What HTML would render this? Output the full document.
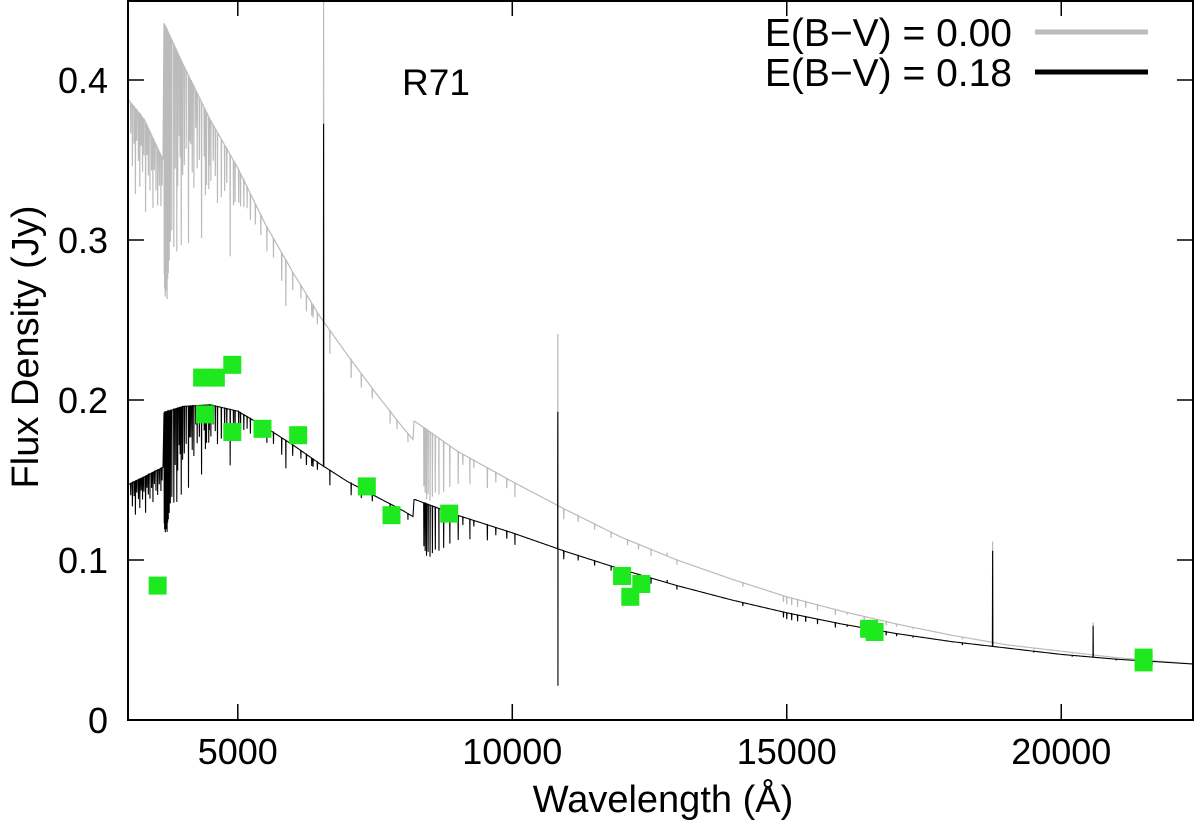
<!DOCTYPE html>
<html><head><meta charset="utf-8"><style>
html,body{margin:0;padding:0;background:#fff;}
svg{display:block;font-family:"Liberation Sans",sans-serif;}
</style></head><body>
<svg id="chart" width="1200" height="824" viewBox="0 0 1200 824">
<g id="plot"></g>
<g id="axes"></g>
<text x="436" y="95" font-size="37" text-anchor="middle">R71</text>
<g>
 <text x="1012" y="46" font-size="39" text-anchor="end">E(B−V) = 0.00</text>
 <line x1="1035" y1="32" x2="1148" y2="32" stroke="#bbb" stroke-width="5"/>
 <text x="1012" y="86" font-size="39" text-anchor="end">E(B−V) = 0.18</text>
 <line x1="1035" y1="72" x2="1148" y2="72" stroke="#000" stroke-width="5"/>
</g>
<text x="663" y="812" font-size="38" text-anchor="middle">Wavelength (Å)</text>
<text x="0" y="0" font-size="38" text-anchor="middle" transform="translate(38,347) rotate(-90)">Flux Density (Jy)</text>
</svg>
<script>
const grayWave=[3000,3300,3640,3650,4000,4500,5000,5500,6000,6500,7000,7500,8000,8200,8210,9000,10000,11000,12000,13000,14000,15000,16000,17000,18000,19000,20000,21000,22400];
const grayFlux=[0.388,0.375,0.35,0.436,0.41,0.375,0.345,0.31,0.28,0.252,0.228,0.205,0.183,0.175,0.187,0.168,0.149,0.131,0.114,0.1,0.088,0.077,0.068,0.06,0.053,0.047,0.043,0.039,0.035];
const blackWave=grayWave;
const blackFlux=[0.147,0.152,0.158,0.192,0.196,0.197,0.193,0.183,0.172,0.16,0.149,0.14,0.131,0.127,0.138,0.128,0.117,0.105,0.094,0.084,0.075,0.067,0.06,0.054,0.049,0.045,0.041,0.038,0.035];
// spectral lines: wavelength, fractional depth (negative = emission)
const lineWave=[3660,3667,3673,3680,3686,3691,3697,3704,3712,3722,3734,3750,3771,3798,3835,3889,3933,3970,4026,4102,4144,4340,4388,4471,4481,4552,4861,4922,5016,5876,6563,6678,7065,8390,8413,8438,8467,8502,8545,8598,8665,8750,8863,9015,9229,9546,10049,10830,10938,12527,12820,14940,15000,15090,15197,15345,15560,15885,16411,16811,17000,18750,20580,21655,11200,7774,5169,6347,6371,4233,9900,
3050,3080,3110,3135,3160,3190,3215,3240,3265,3290,3320,3345,3370,3400,3430,3455,3480,3510,3540,3570,3600,3620,3860,3905,3950,3995,4060,4120,4170,4200,4260,4300,4410,4430,4510,4590,4630,4700,4760,4800,4950,5050,5110,5230,5320,5420,5530,5650,5800,6000,6150,6250,6450,7250,7450,7900,8100,9100,9300,9700,11500,11800,12100,12300,13000,14200,16100,17300,18200,19500,20200,21000];
const lineDepth=[0.36,0.38,0.37,0.39,0.38,0.36,0.38,0.37,0.39,0.36,0.35,0.33,0.3,0.28,0.3,0.3,0.12,0.28,0.15,0.26,0.1,0.22,0.08,0.12,0.08,0.06,0.18,0.08,0.06,0.1,-1.35,0.06,0.05,0.2,0.22,0.24,0.22,0.24,0.22,0.2,0.2,0.18,0.15,0.12,0.1,0.08,0.06,-0.8,0.05,0.04,-0.02,0.05,0.06,0.06,0.06,0.05,0.05,0.05,0.04,0.04,0.03,-1.3,-0.5,0.05,0.03,0.04,0.04,0.03,0.03,0.06,0.04,
0.05,0.1,0.06,0.14,0.05,0.08,0.12,0.05,0.09,0.06,0.15,0.05,0.08,0.1,0.06,0.12,0.05,0.08,0.1,0.06,0.09,0.05,0.18,0.2,0.15,0.17,0.12,0.1,0.14,0.16,0.12,0.1,0.14,0.12,0.1,0.08,0.12,0.1,0.08,0.06,0.07,0.06,0.05,0.05,0.04,0.04,0.05,0.04,0.06,0.04,0.03,0.04,0.03,0.04,0.03,0.03,0.03,0.04,0.03,0.04,0.03,0.03,0.03,0.03,0.03,0.03,0.02,0.02,0.03,0.02,0.02,0.02];
const specialDip={10830:[0.8,0.02]}; // extra absorption component near He I (depth black, depth gray)
const photWave=[3540,4350,4600,4900,4400,4900,5450,6100,7350,7800,8850,12000,12150,12350,16500,16600,21500,21500];
const photFlux=[0.084,0.214,0.214,0.222,0.191,0.180,0.182,0.178,0.146,0.128,0.129,0.090,0.077,0.085,0.057,0.055,0.039,0.036];
const xTicks=[5000,10000,15000,20000];
const yTicks=[0,0.1,0.2,0.3,0.4];
const yTickLabels=["0","0.1","0.2","0.3","0.4"];

const L=128,R=1193,T=0,B=720,XMIN=3000,XMAX=22400,YMIN=0,YMAX=0.45;
const sx=w=>L+(w-XMIN)/(XMAX-XMIN)*(R-L);
const sy=f=>B-(f-YMIN)/(YMAX-YMIN)*(B-T);
const NS='http://www.w3.org/2000/svg';
const plot=document.getElementById('plot'),axes=document.getElementById('axes');
function mk(tag,attrs,parent){const e=document.createElementNS(NS,tag);for(const k in attrs)e.setAttribute(k,attrs[k]);parent.appendChild(e);return e;}
function cont(ws,fs,w){for(let i=0;i<ws.length-1;i++){if(w<=ws[i+1]){const t=(w-ws[i])/(ws[i+1]-ws[i]);return fs[i]+t*(fs[i+1]-fs[i]);}}return fs[fs.length-1];}
function buildPath(ws,fs,extraIdx){
  const pts=[];
  for(let px=L;px<=R;px+=1){const w=XMIN+(px-L)/(R-L)*(XMAX-XMIN);pts.push([w,cont(ws,fs,w)]);}
  lineWave.forEach((lw,i)=>{const c=cont(ws,fs,lw);const d=lineDepth[i];
    pts.push([lw-4,c]);pts.push([lw,c*(1-d)]);pts.push([lw+4,c]);
    if(specialDip[lw]){pts.push([lw+2,c*(1-specialDip[lw][extraIdx])]);}
  });
  pts.sort((a,b)=>a[0]-b[0]);
  let d='';pts.forEach((p,i)=>{const y=Math.max(T,sy(p[1]));d+=(i?'L':'M')+sx(p[0]).toFixed(2)+' '+y.toFixed(2);});
  return d;
}
const clip=mk('clipPath',{id:'clipPlot'},mk('defs',{},plot));
mk('rect',{x:L,y:T,width:R-L,height:B-T},clip);
const g=mk('path',{d:buildPath(grayWave,grayFlux,1),fill:'none',stroke:'#bbb','stroke-width':1.2,'clip-path':'url(#clipPlot)'},plot);


const k=mk('path',{d:buildPath(blackWave,blackFlux,0),fill:'none',stroke:'#000','stroke-width':1.1,'clip-path':'url(#clipPlot)'},plot);


photWave.forEach((w,i)=>{
  const r=mk('rect',{x:sx(w)-9,y:sy(photFlux[i])-9,width:18,height:18,fill:'#1ee81e'},plot);
  
  
});
const fr=mk('rect',{x:L,y:T+1,width:R-L,height:B-T-1,fill:'none',stroke:'#000','stroke-width':2},axes);


xTicks.forEach(v=>{
  const x=sx(v);
  mk('line',{x1:x,y1:B,x2:x,y2:B-16,stroke:'#000','stroke-width':1.5},axes);
  mk('line',{x1:x,y1:T,x2:x,y2:T+16,stroke:'#000','stroke-width':1.5},axes);
  const t=mk('text',{x:x,y:B+44,'font-size':36,'text-anchor':'middle'},axes);
  t.textContent=v;
  
  
});
yTicks.forEach((v,i)=>{
  const y=sy(v);
  mk('line',{x1:L,y1:y,x2:L+16,y2:y,stroke:'#000','stroke-width':1.5},axes);
  mk('line',{x1:R,y1:y,x2:R-16,y2:y,stroke:'#000','stroke-width':1.5},axes);
  const t=mk('text',{x:108,y:y+13,'font-size':36,'text-anchor':'end'},axes);
  t.textContent=yTickLabels[i];
  
  
});
</script>
</body></html>
